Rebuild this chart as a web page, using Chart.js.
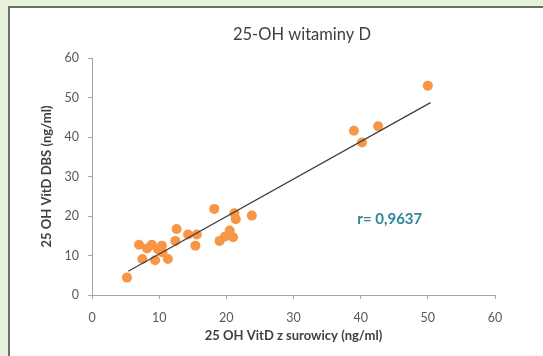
<!DOCTYPE html>
<html>
<head>
<meta charset="utf-8">
<script src="https://cdn.jsdelivr.net/npm/chart.js"></script>
<style>
  html, body { margin: 0; padding: 0; }
  body { width: 543px; height: 356px; background: #e8f1dc; position: relative; overflow: hidden; }
  #box { position: absolute; left: 8px; top: 6px; width: 600px; height: 400px; background: #fff;
         border-left: 2px solid #6e6e6e; border-top: 2px solid #6e6e6e; }
  #wrap { position: absolute; left: 0; top: 0; width: 543px; height: 356px; }
</style>
</head>
<body>
<div id="box"></div>
<div id="wrap"><canvas id="c"></canvas></div>
<script>
// dane
const chartTitle = '25-OH witaminy D';
const xTitle = '25 OH VitD z surowicy (ng/ml)';
const yTitle = '25 OH VitD DBS (ng/ml)';
const rLabel = 'r= 0,9637';

const serumVals = [5.2, 7.0, 7.5, 8.2, 8.9, 9.4, 9.8, 10.4, 10.5, 11.3, 12.4, 12.6, 14.3, 15.6, 15.4,
                   18.2, 19.0, 19.8, 20.5, 21.0, 21.2, 21.4, 23.8, 39.0, 40.2, 42.6, 50.0];
const dbsVals   = [4.4, 12.7, 9.1, 11.8, 12.7, 8.8, 11.6, 12.5, 10.8, 9.1, 13.7, 16.7, 15.3, 15.3, 12.5,
                   21.8, 13.7, 14.8, 16.3, 14.6, 20.7, 19.2, 20.1, 41.6, 38.6, 42.7, 53.0];

// linia trendu (koncowki)
const trendX = [5.4, 50.4];
const trendY = [6.0, 48.7];

const axisMin = 0, axisMax = 60, axisStep = 10;

const points = serumVals.map((v, i) => ({ x: v, y: dbsVals[i] }));
const trend = trendX.map((v, i) => ({ x: v, y: trendY[i] }));

const FONT = 'Lato, "Open Sans", sans-serif';

// tytul i opis r rysowane recznie
const textPlugin = {
    id: 'texts',
    afterDraw(chart) {
        const ctx = chart.ctx;
        ctx.save();
        ctx.fillStyle = '#404040';
        ctx.font = '16.5px ' + FONT;
        ctx.textAlign = 'center';
        ctx.textBaseline = 'middle';
        ctx.fillText(chartTitle, 302, 35);

        const xs = chart.scales.x, ys = chart.scales.y;
        ctx.fillStyle = '#31859c';
        ctx.font = 'bold 15px ' + FONT;
        ctx.textAlign = 'left';
        ctx.fillText(rLabel, xs.getPixelForValue(39.5), ys.getPixelForValue(19.3));
        ctx.restore();
    }
};

const gridOpts = {
    drawOnChartArea: false,
    drawTicks: true,
    tickLength: 4,
    color: '#a6a6a6'
};

new Chart(document.getElementById('c').getContext('2d'), {
    type: 'scatter',
    data: {
        datasets: [
            {
                type: 'line',
                data: trend,
                borderColor: '#404040',
                borderWidth: 1.3,
                pointRadius: 0,
                fill: false,
                order: 0
            },
            {
                data: points,
                backgroundColor: '#f79646',
                borderColor: '#f79646',
                borderWidth: 0,
                pointRadius: 5,
                order: 1
            }
        ]
    },
    options: {
        responsive: true,
        maintainAspectRatio: false,
        animation: false,
        layout: {
            padding: { left: 0, top: 58, right: 48, bottom: 0 }
        },
        plugins: {
            legend: { display: false },
            tooltip: { enabled: false }
        },
        scales: {
            x: {
                type: 'linear',
                min: axisMin,
                max: axisMax,
                grid: gridOpts,
                border: { display: true, color: '#a6a6a6', width: 1 },
                ticks: {
                    stepSize: axisStep,
                    padding: 11,
                    color: '#595959',
                    font: { family: FONT, size: 12.5 }
                },
                title: {
                    display: true,
                    text: xTitle,
                    color: '#404040',
                    font: { family: FONT, size: 13, weight: 'bold' },
                    padding: { top: 0, bottom: 12 }
                },
                afterFit(scale) { scale.height = 61; }
            },
            y: {
                type: 'linear',
                min: axisMin,
                max: axisMax,
                grid: gridOpts,
                border: { display: true, color: '#a6a6a6', width: 1 },
                ticks: {
                    stepSize: axisStep,
                    padding: 9,
                    color: '#595959',
                    font: { family: FONT, size: 12.5 }
                },
                title: {
                    display: true,
                    text: yTitle,
                    color: '#404040',
                    font: { family: FONT, size: 13, weight: 'bold' },
                    padding: { top: 39, bottom: 0 }
                },
                afterFit(scale) { scale.width = 92; }
            }
        }
    },
    plugins: [textPlugin]
});
</script>
</body>
</html>
